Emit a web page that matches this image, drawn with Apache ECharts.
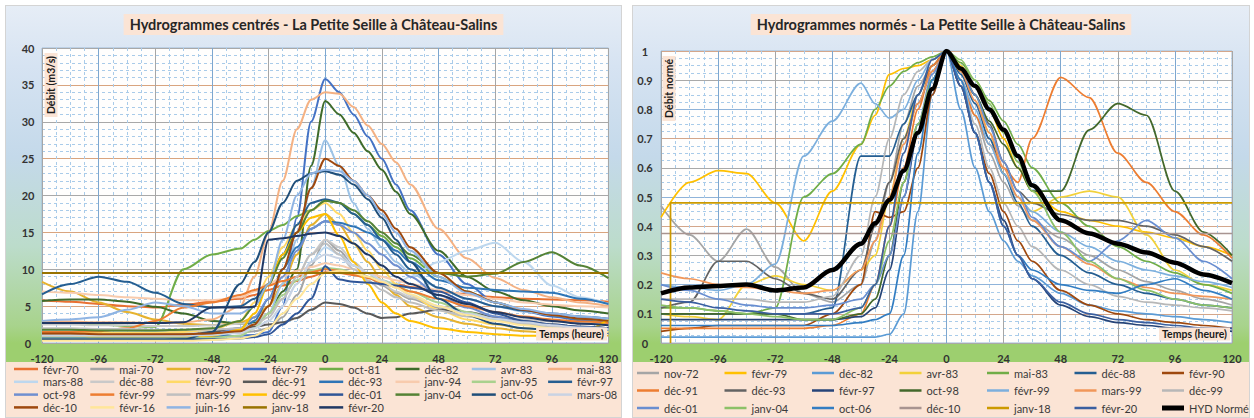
<!DOCTYPE html>
<html><head><meta charset="utf-8">
<script src="https://cdn.jsdelivr.net/npm/echarts@6/dist/echarts.min.js"></script>
<style>
html,body{margin:0;padding:0;background:#fff;width:1254px;height:418px;overflow:hidden;}
.panel{position:absolute;top:5px;height:413px;box-sizing:border-box;border:1px solid #d4d4d4;
background:linear-gradient(to bottom,#e6edf6 0px,#d6e3f2 60px,#c4d9ea 150px,#bcdccb 240px,#a8d38c 320px,#9dcf6f 337px,#9dcf6f 356px,#fbe4d5 356px,#fbe4d5 100%);}
#left{left:5px;width:617px;}
#right{left:632px;width:618px;}
</style></head>
<body>
<div id="left" class="panel"></div>
<div id="right" class="panel"></div>
<script>
// ---------- shared time axis (hours) ----------
const HOURS = [-120,-108,-96,-84,-72,-60,-48,-36,-30,-24,-18,-12,-6,0,6,12,18,24,30,36,48,60,72,84,96,108,120];

// ---------- LEFT : Hydrogrammes centrés (m3/s) ----------
const L_FEVR_70 = [5.8,5.6,5.3,5.0,4.8, 5.2,5.6,6.0,6.5,7.2, 7.8,8.4,9.0,9.6,9.5, 9.2,8.8,8.4,8.0,7.6, 7.0,6.6,6.2,6.0,5.9, 5.8,5.6];
const L_MAI_70  = [1.5,1.5,1.4,1.4,1.3, 1.3,1.3,1.4,1.6,2.0, 3.5,6.5,10.5,14.0,12.5, 10.5,9.0,7.8,6.8,6.0, 4.8,3.8,3.2,2.8,2.5, 2.2,2.0];
const L_NOV_72  = [8.3,7.0,5.5,4.2,3.2, 2.6,2.4,2.8,3.5,5.0, 8.0,12.0,16.0,17.5,16.0, 13.5,11.0,8.5,6.5,5.0, 3.5,2.6,2.0,1.6,1.3, 1.1,1.0];
const L_FEVR_79 = [1.0,1.0,0.9,0.9,0.9, 0.9,0.9,1.0,1.1,1.5, 5.0,17.0,30.0,35.8,34.0, 31.0,28.0,25.0,21.5,18.0, 12.0,8.0,5.5,4.3,3.6, 3.1,2.7];
const L_OCT_81  = [2.8,2.6,2.5,2.3,2.2, 10.0,12.0,12.8,14.0,15.2, 16.0,17.2,18.0,19.3,19.0, 17.5,16.0,14.5,13.0,11.5, 9.0,7.0,5.5,4.5,3.8, 3.3,3.0];
const L_DEC_82  = [5.7,5.9,5.9,5.6,4.9, 4.0,3.0,2.6,2.8,4.0, 7.0,10.0,24.0,32.8,31.0, 28.5,26.0,23.5,20.5,17.5, 12.5,9.0,7.0,5.8,5.0, 4.4,4.0];
const L_AVR_83  = [1.8,1.8,1.7,1.7,1.6, 1.6,1.7,2.0,2.5,4.0, 8.0,14.0,21.0,27.5,24.0, 19.0,15.5,13.0,11.0,9.5, 7.5,6.0,5.0,4.3,3.8, 3.4,3.0];
const L_MAI_83  = [3.0,2.9,2.8,2.8,2.7, 2.8,3.2,5.0,9.0,15.0, 22.0,29.0,33.0,34.0,33.8, 32.0,29.5,27.0,24.5,21.5, 15.5,11.5,8.8,7.2,6.2, 5.5,5.0];
const L_MARS_88 = [1.2,1.2,1.2,1.1,1.1, 1.1,1.2,1.5,2.0,3.0, 5.0,8.0,11.0,13.0,12.0, 10.5,9.5,8.5,8.0,9.0, 11.0,12.5,13.6,11.0,7.8, 6.2,5.3];
const L_DEC_88  = [2.5,2.5,2.4,2.4,2.3, 2.3,2.4,2.6,3.0,4.0, 6.0,9.0,12.0,14.0,13.0, 11.0,9.5,8.0,7.0,6.2, 5.0,4.2,3.6,3.2,2.9, 2.7,2.5];
const L_FEVR_90 = [1.5,1.5,1.4,1.4,1.4, 1.5,1.8,3.0,5.5,9.0, 13.0,16.0,18.0,19.0,17.5, 15.0,12.5,10.0,8.0,6.5, 4.5,3.2,2.5,2.0,1.8, 1.6,1.5];
const L_DEC_91  = [0.8,0.8,0.8,0.9,0.9, 1.0,1.5,2.0,2.2,2.5, 2.8,3.4,4.5,5.5,5.3, 4.8,4.0,3.4,3.5,4.0, 4.5,4.2,3.5,3.0,2.5, 2.2,2.0];
const L_DEC_93  = [0.8,0.8,0.8,0.8,0.8, 0.8,0.9,1.5,3.0,6.0, 10.0,13.0,15.5,16.5,16.3, 15.8,15.0,14.0,12.5,11.0, 8.5,7.5,7.2,7.0,6.8, 6.0,5.3];
const L_JANV_94 = [7.0,6.8,6.5,6.2,6.0, 5.8,5.8,6.2,7.0,8.0, 9.0,9.8,10.3,10.8,10.5, 10.0,9.5,9.0,8.5,8.0, 7.2,6.5,6.0,5.5,5.2, 5.0,4.8];
const L_JANV_95 = [0.6,0.6,0.6,0.6,0.6, 0.6,0.7,1.0,2.0,4.0, 6.5,8.5,9.8,10.2,10.0, 9.5,9.0,8.5,7.8,7.0, 5.5,4.2,3.2,2.5,2.0, 1.8,1.6];
const L_FEVR_97 = [6.6,8.0,9.0,8.3,6.8, 5.3,4.8,5.0,6.0,8.0, 12.0,16.0,19.0,19.5,19.0, 17.5,16.0,14.0,12.0,10.0, 7.5,6.0,5.0,4.4,4.0, 3.6,3.3];
const L_OCT_98  = [1.0,1.0,1.0,1.0,1.0, 1.0,1.2,2.0,3.5,6.0, 9.0,12.5,15.5,16.5,16.0, 15.0,13.5,12.0,10.5,9.0, 6.5,4.8,3.6,2.8,2.3, 2.0,1.8];
const L_FEVR_99 = [1.5,1.5,1.6,2.0,3.0, 4.8,5.5,6.5,7.2,7.8, 8.4,9.0,9.6,10.0,9.8, 9.3,8.8,8.2,7.6,7.0, 6.0,5.0,4.2,3.6,3.2, 2.9,2.7];
const L_MARS_99 = [2.0,2.0,1.9,1.9,1.8, 1.8,1.8,2.0,2.5,3.5, 6.0,9.0,12.0,13.5,12.0, 10.0,8.5,7.2,6.2,5.5, 4.4,3.6,3.0,2.6,2.3, 2.1,1.9];
const L_DEC_99  = [1.0,1.0,0.9,0.9,0.9, 0.9,1.0,1.8,4.0,8.0, 12.0,15.0,17.0,17.5,14.5, 11.0,8.0,5.5,4.0,3.0, 2.0,1.5,1.2,1.0,1.0, 1.4,3.2];
const L_DEC_01  = [0.5,0.5,0.5,0.5,0.5, 0.5,0.5,0.6,0.8,1.2, 2.5,4.0,6.0,10.4,8.6, 8.3,8.2,8.0,7.8,7.5, 7.0,5.5,4.0,3.0,2.5, 2.2,2.0];
const L_JANV_04 = [1.8,1.8,1.7,1.7,1.7, 1.8,2.0,3.0,5.0,8.0, 11.5,15.0,18.0,19.3,19.0, 18.0,16.5,15.0,13.5,12.0, 9.5,9.0,9.4,11.0,12.3, 10.5,8.8];
const L_OCT_06  = [0.4,0.4,0.4,0.4,0.4, 0.5,1.5,8.0,11.0,15.0, 19.0,22.0,23.0,23.3,22.8, 21.5,19.5,17.0,14.0,11.0, 6.0,3.8,2.6,2.0,1.7, 1.5,1.4];
const L_MARS_08 = [1.0,1.0,1.0,1.0,1.0, 1.0,1.1,1.4,2.0,3.0, 5.0,8.0,11.0,12.0,11.5, 10.5,9.5,8.5,7.5,6.5, 5.0,4.0,3.3,2.8,2.4, 2.1,1.9];
const L_DEC_10  = [1.3,1.3,1.2,1.2,1.2, 1.2,1.3,1.6,2.5,5.0, 10.0,15.0,21.0,25.0,24.0, 22.0,20.0,18.0,15.5,13.0, 9.5,7.0,5.5,4.5,3.8, 3.3,3.0];
const L_FEVR_16 = [0.3,0.3,0.3,0.3,0.3, 0.3,0.4,0.6,1.0,2.0, 4.0,6.0,8.0,9.5,9.8, 9.5,9.0,8.3,7.5,6.6, 5.0,3.8,3.0,2.4,2.0, 1.7,1.5];
const L_JUIN_16 = [3.0,3.2,3.5,4.5,5.5, 5.0,4.0,4.0,5.0,8.0, 14.0,20.0,23.0,23.5,23.3, 22.0,20.0,17.5,15.0,12.5, 9.0,6.8,5.5,4.6,4.0, 3.6,3.3];
const L_JANV_18 = [9.5,9.5,9.5,9.5,9.5, 9.5,9.5,9.5,9.5,9.5, 9.5,9.5,9.5,9.5,9.5, 9.5,9.5,9.5,9.5,9.5, 9.5,9.5,9.5,9.5,9.5, 9.5,9.5];
const L_FEVR_20 = [2.7,2.7,2.7,2.7,2.7, 2.8,4.8,4.8,4.9,14.0, 14.2,14.5,14.8,15.0,14.5, 13.5,12.0,10.5,9.0,8.0, 6.5,5.3,4.2,3.5,3.0, 2.6,2.4];

const LEFT_NAMES = ['févr-70','mai-70','nov-72','févr-79','oct-81','déc-82','avr-83','mai-83',
  'mars-88','déc-88','févr-90','déc-91','déc-93','janv-94','janv-95','févr-97',
  'oct-98','févr-99','mars-99','déc-99','déc-01','janv-04','oct-06','mars-08',
  'déc-10','févr-16','juin-16','janv-18','févr-20'];
const LEFT_VALUES = [L_FEVR_70,L_MAI_70,L_NOV_72,L_FEVR_79,L_OCT_81,L_DEC_82,L_AVR_83,L_MAI_83,
  L_MARS_88,L_DEC_88,L_FEVR_90,L_DEC_91,L_DEC_93,L_JANV_94,L_JANV_95,L_FEVR_97,
  L_OCT_98,L_FEVR_99,L_MARS_99,L_DEC_99,L_DEC_01,L_JANV_04,L_OCT_06,L_MARS_08,
  L_DEC_10,L_FEVR_16,L_JUIN_16,L_JANV_18,L_FEVR_20];
const LEFT_COLORS = ['#E97132','#A5A5A5','#E6B22E','#4472C4','#70AD47','#3E6B2A','#9DC3E6','#F4B183',
  '#BDD7EE','#C9C9C9','#FFD966','#595959','#2E75B6','#F8CBAD','#A9D18E','#255E91',
  '#6F8FD0','#ED7D31','#BFBFBF','#FFC000','#2F5597','#548235','#1F4E79','#C9D3E3',
  '#9E480E','#FFE699','#8FB4E3','#997300','#203864'];

// ---------- RIGHT : Hydrogrammes normés ----------
const R_NOV_72  = [0.47,0.37,0.28,0.39,0.26, 0.17,0.14,0.2,0.35,0.55, 0.75,0.88,0.95,1.0,0.9, 0.78,0.65,0.55,0.47,0.42, 0.36,0.3,0.25,0.21,0.18, 0.15,0.13];
const R_FEVR_79 = [0.43,0.55,0.59,0.58,0.48, 0.35,0.52,0.68,0.78,0.92, 0.94,0.95,0.97,1.0,0.95, 0.88,0.8,0.7,0.6,0.52, 0.45,0.42,0.4,0.38,0.36, 0.33,0.3];
const R_DEC_82  = [0.02,0.02,0.02,0.02,0.02, 0.02,0.02,0.02,0.02,0.03, 0.1,0.45,0.85,1.0,0.8, 0.6,0.45,0.35,0.28,0.23, 0.17,0.13,0.11,0.1,0.09, 0.08,0.07];
const R_AVR_83  = [0.1,0.09,0.08,0.2,0.23, 0.2,0.18,0.25,0.3,0.5, 0.7,0.85,0.95,1.0,0.95, 0.85,0.72,0.58,0.5,0.45, 0.5,0.52,0.5,0.37,0.25, 0.2,0.18];
const R_MAI_83  = [0.12,0.12,0.11,0.1,0.12, 0.5,0.58,0.68,0.8,0.88, 0.93,0.96,0.98,1.0,0.96, 0.9,0.83,0.76,0.68,0.6, 0.48,0.4,0.33,0.28,0.24, 0.2,0.17];
const R_DEC_88  = [0.1,0.1,0.1,0.1,0.1, 0.1,0.12,0.64,0.64,0.64, 0.75,0.85,0.95,1.0,0.92, 0.82,0.7,0.58,0.48,0.4, 0.3,0.24,0.2,0.17,0.15, 0.13,0.12];
const R_FEVR_90 = [0.04,0.05,0.06,0.06,0.06, 0.06,0.1,0.2,0.45,0.43, 0.45,0.6,0.85,1.0,0.88, 0.72,0.58,0.45,0.35,0.28, 0.18,0.13,0.1,0.08,0.07, 0.06,0.05];
const R_DEC_91  = [0.05,0.05,0.05,0.05,0.05, 0.05,0.06,0.1,0.2,0.4, 0.6,0.8,0.95,1.0,0.9, 0.78,0.68,0.6,0.55,0.7, 0.91,0.84,0.65,0.55,0.45, 0.37,0.29];
const R_DEC_93  = [0.12,0.14,0.28,0.28,0.22, 0.17,0.15,0.25,0.4,0.55, 0.7,0.82,0.93,1.0,0.93, 0.85,0.75,0.62,0.52,0.48, 0.44,0.42,0.42,0.4,0.37, 0.33,0.28];
const R_FEVR_97 = [0.08,0.08,0.08,0.08,0.08, 0.08,0.08,0.09,0.12,0.25, 0.5,0.72,0.9,1.0,0.88, 0.72,0.55,0.42,0.3,0.22, 0.13,0.09,0.07,0.06,0.05, 0.05,0.04];
const R_OCT_98  = [0.1,0.1,0.1,0.1,0.1, 0.08,0.08,0.1,0.15,0.3, 0.55,0.75,0.9,1.0,0.93, 0.85,0.76,0.68,0.6,0.52, 0.52,0.73,0.82,0.78,0.52, 0.38,0.3];
const R_FEVR_99 = [0.2,0.19,0.18,0.2,0.27, 0.64,0.76,0.89,0.82,0.77, 0.8,0.9,0.97,1.0,0.9, 0.8,0.68,0.58,0.5,0.45, 0.38,0.33,0.28,0.25,0.23, 0.21,0.19];
const R_MARS_99 = [0.24,0.22,0.2,0.19,0.18, 0.17,0.18,0.25,0.35,0.5, 0.68,0.82,0.93,1.0,0.93, 0.83,0.72,0.6,0.5,0.42, 0.33,0.27,0.22,0.19,0.17, 0.16,0.15];
const R_DEC_99  = [0.15,0.15,0.15,0.15,0.14, 0.14,0.16,0.3,0.5,0.7, 0.85,0.93,0.97,1.0,0.9, 0.75,0.6,0.48,0.4,0.33, 0.25,0.2,0.16,0.14,0.13, 0.12,0.11];
const R_DEC_01  = [0.2,0.18,0.15,0.13,0.12, 0.12,0.13,0.15,0.2,0.3, 0.5,0.75,0.92,1.0,0.94, 0.85,0.74,0.62,0.52,0.43, 0.33,0.28,0.35,0.42,0.36, 0.28,0.22];
const R_JANV_04 = [0.13,0.12,0.11,0.1,0.09, 0.08,0.08,0.12,0.2,0.35, 0.55,0.75,0.9,1.0,0.97, 0.9,0.82,0.72,0.62,0.52, 0.38,0.28,0.22,0.18,0.15, 0.13,0.12];
const R_OCT_06  = [0.06,0.06,0.06,0.06,0.06, 0.06,0.06,0.07,0.08,0.1, 0.3,0.65,0.9,1.0,0.9, 0.72,0.55,0.4,0.3,0.25, 0.2,0.18,0.17,0.2,0.22, 0.18,0.15];
const R_DEC_10  = [0.375,0.375,0.375,0.375,0.375, 0.375,0.375,0.375,0.375,0.375, 0.375,0.375,0.375,0.375,0.375, 0.375,0.375,0.375,0.375,0.375, 0.375,0.375,0.375,0.375,0.375, 0.375,0.375];
const R_JANV_18_HOURS = [-116,-116,120];
const R_JANV_18 = [0,0.48,0.48];
const R_FEVR_20 = [0.15,0.14,0.12,0.11,0.1, 0.1,0.1,0.12,0.2,0.4, 0.65,0.85,0.97,1.0,0.88, 0.72,0.55,0.4,0.3,0.22, 0.14,0.1,0.08,0.07,0.06, 0.05,0.05];
const R_HYD     = [0.17,0.19,0.195,0.2,0.18, 0.19,0.25,0.34,0.41,0.49, 0.59,0.72,0.87,1.0,0.94, 0.88,0.80,0.73,0.64,0.54, 0.42,0.375,0.34,0.31,0.275, 0.235,0.205];

const RIGHT_NAMES = ['nov-72','févr-79','déc-82','avr-83','mai-83','déc-88','févr-90',
  'déc-91','déc-93','févr-97','oct-98','févr-99','mars-99','déc-99',
  'déc-01','janv-04','oct-06','déc-10','janv-18','févr-20','HYD Normé'];
const RIGHT_VALUES = [R_NOV_72,R_FEVR_79,R_DEC_82,R_AVR_83,R_MAI_83,R_DEC_88,R_FEVR_90,
  R_DEC_91,R_DEC_93,R_FEVR_97,R_OCT_98,R_FEVR_99,R_MARS_99,R_DEC_99,
  R_DEC_01,R_JANV_04,R_OCT_06,R_DEC_10,R_JANV_18,R_FEVR_20,R_HYD];
const RIGHT_HOURS = RIGHT_NAMES.map(n => n === 'janv-18' ? R_JANV_18_HOURS : HOURS);
const RIGHT_COLORS = ['#A5A5A5','#FFC000','#5B9BD5','#F2D13A','#70AD47','#255E91','#9E480E',
  '#ED7D31','#636363','#264478','#43682B','#7CAFDD','#F1975A','#B7B7B7',
  '#698ED0','#8CC168','#327DC2','#A89490','#CC9A00','#3A5FA0','#000000'];

const X_TICK_STEP = 24;
const FONT = 'Lato, "Open Sans", sans-serif';

function makeSeries(names, values, hoursList, colors, width) {
  return names.map((n, i) => {
    const hrs = hoursList[i];
    const isHyd = n === 'HYD Normé';
    return {
      type: 'line', name: n,
      data: hrs.map((h, j) => [h, values[i][j]]),
      symbol: 'none', smooth: 0.3, smoothMonotone: 'x',
      z: isHyd ? 10 : 2,
      lineStyle: { width: isHyd ? 4.5 : width, color: colors[i] },
      itemStyle: { color: colors[i] },
      emphasis: { disabled: true }
    };
  });
}

// one legend per item, laid out on a fixed column/row grid like the original
function makeLegends(names, ncols, left0, dx, top0, dy, itemW) {
  return names.map((n, i) => ({
    left: left0 + (i % ncols) * dx, top: top0 + Math.floor(i / ncols) * dy, padding: 0,
    icon: 'rect', itemWidth: itemW, itemHeight: n === 'HYD Normé' ? 5 : 2.5,
    selectedMode: false,
    textStyle: { fontFamily: FONT, fontSize: 11, color: '#3a3a3a', lineHeight: 12 },
    data: [n]
  }));
}

function baseAxes(ymax, yint, yMinor, ySplitColors, labelMargin) {
  return {
    xAxis: {
      type: 'value', min: -120, max: 120, interval: X_TICK_STEP,
      axisLine: { show: false }, axisTick: { show: false },
      axisLabel: { margin: 10, fontFamily: FONT, fontWeight: 'bold', fontSize: 11, color: '#333' },
      splitLine: { show: true, lineStyle: { color: ['#a6a6a6', '#7ea7cf'], width: 1 } },
      minorTick: { show: false, splitNumber: 4 },
      minorSplitLine: { show: true, lineStyle: { color: '#a9cbe9', width: 1, type: [3, 3] } }
    },
    yAxis: {
      type: 'value', min: 0, max: ymax, interval: yint,
      axisLine: { show: false }, axisTick: { show: false },
      axisLabel: { margin: labelMargin, align: 'center', fontFamily: FONT, fontWeight: 'bold', fontSize: 11, color: '#333' },
      splitLine: { show: true, lineStyle: { color: ySplitColors, width: 1 } },
      minorTick: { show: false, splitNumber: yMinor },
      minorSplitLine: { show: true, lineStyle: { color: '#a9cbe9', width: 1, type: [3, 3] } }
    }
  };
}

function label(x, y, text, rot, align) {
  return {
    type: 'text', x: x, y: y, rotation: rot, z: 100,
    style: { text: text, fill: '#1a1a1a', font: 'bold 10.5px ' + FONT, align: align, verticalAlign: 'middle',
             backgroundColor: '#fbe4d5', padding: [1, 3] }
  };
}

// ---- left chart ----
const left = echarts.init(document.getElementById('left'), null, { renderer: 'svg' });
const la = baseAxes(40, 5, 5, ['#a8a8a8', '#d9a47e'], 14);
left.setOption({
  animation: false,
  title: { text: 'Hydrogrammes centrés - La Petite Seille à Château-Salins', left: 'center', top: 8,
    backgroundColor: '#fbe4d5', padding: [3, 6, 3, 6],
    textStyle: { fontFamily: FONT, fontWeight: 'bold', fontSize: 14.5, color: '#262626' } },
  grid: { left: 36, top: 42, width: 571, height: 295, show: true, backgroundColor: '#fffefd', borderColor: '#9dbad6', borderWidth: 1 },
  xAxis: la.xAxis, yAxis: la.yAxis,
  legend: makeLegends(LEFT_NAMES, 8, 8, 76.3, 357, 12.8, 24),
  graphic: [ label(45, 47, 'Débit (m3/s)', Math.PI / 2, 'right'), label(601, 328, 'Temps (heure)', 0, 'right') ],
  series: makeSeries(LEFT_NAMES, LEFT_VALUES, LEFT_NAMES.map(() => HOURS), LEFT_COLORS, 2)
});

// ---- right chart ----
const right = echarts.init(document.getElementById('right'), null, { renderer: 'svg' });
const ra = baseAxes(1, 0.1, 4, ['#a9a9a9', '#d4a68a', '#8fb3d9'], 16);
right.setOption({
  animation: false,
  title: { text: 'Hydrogrammes normés - La Petite Seille à Château-Salins', left: 'center', top: 8,
    backgroundColor: '#fbe4d5', padding: [3, 6, 3, 6],
    textStyle: { fontFamily: FONT, fontWeight: 'bold', fontSize: 14.5, color: '#262626' } },
  grid: { left: 28, top: 45, width: 571, height: 292, show: true, backgroundColor: '#fffefd', borderColor: '#9dbad6', borderWidth: 1 },
  xAxis: ra.xAxis, yAxis: ra.yAxis,
  legend: makeLegends(RIGHT_NAMES, 7, 4, 87.5, 361, 17.5, 22),
  graphic: [ label(36, 50, 'Débit normé', Math.PI / 2, 'right'), label(597, 328, 'Temps (heure)', 0, 'right') ],
  series: makeSeries(RIGHT_NAMES, RIGHT_VALUES, RIGHT_HOURS, RIGHT_COLORS, 1.7)
});
</script>
</body></html>
